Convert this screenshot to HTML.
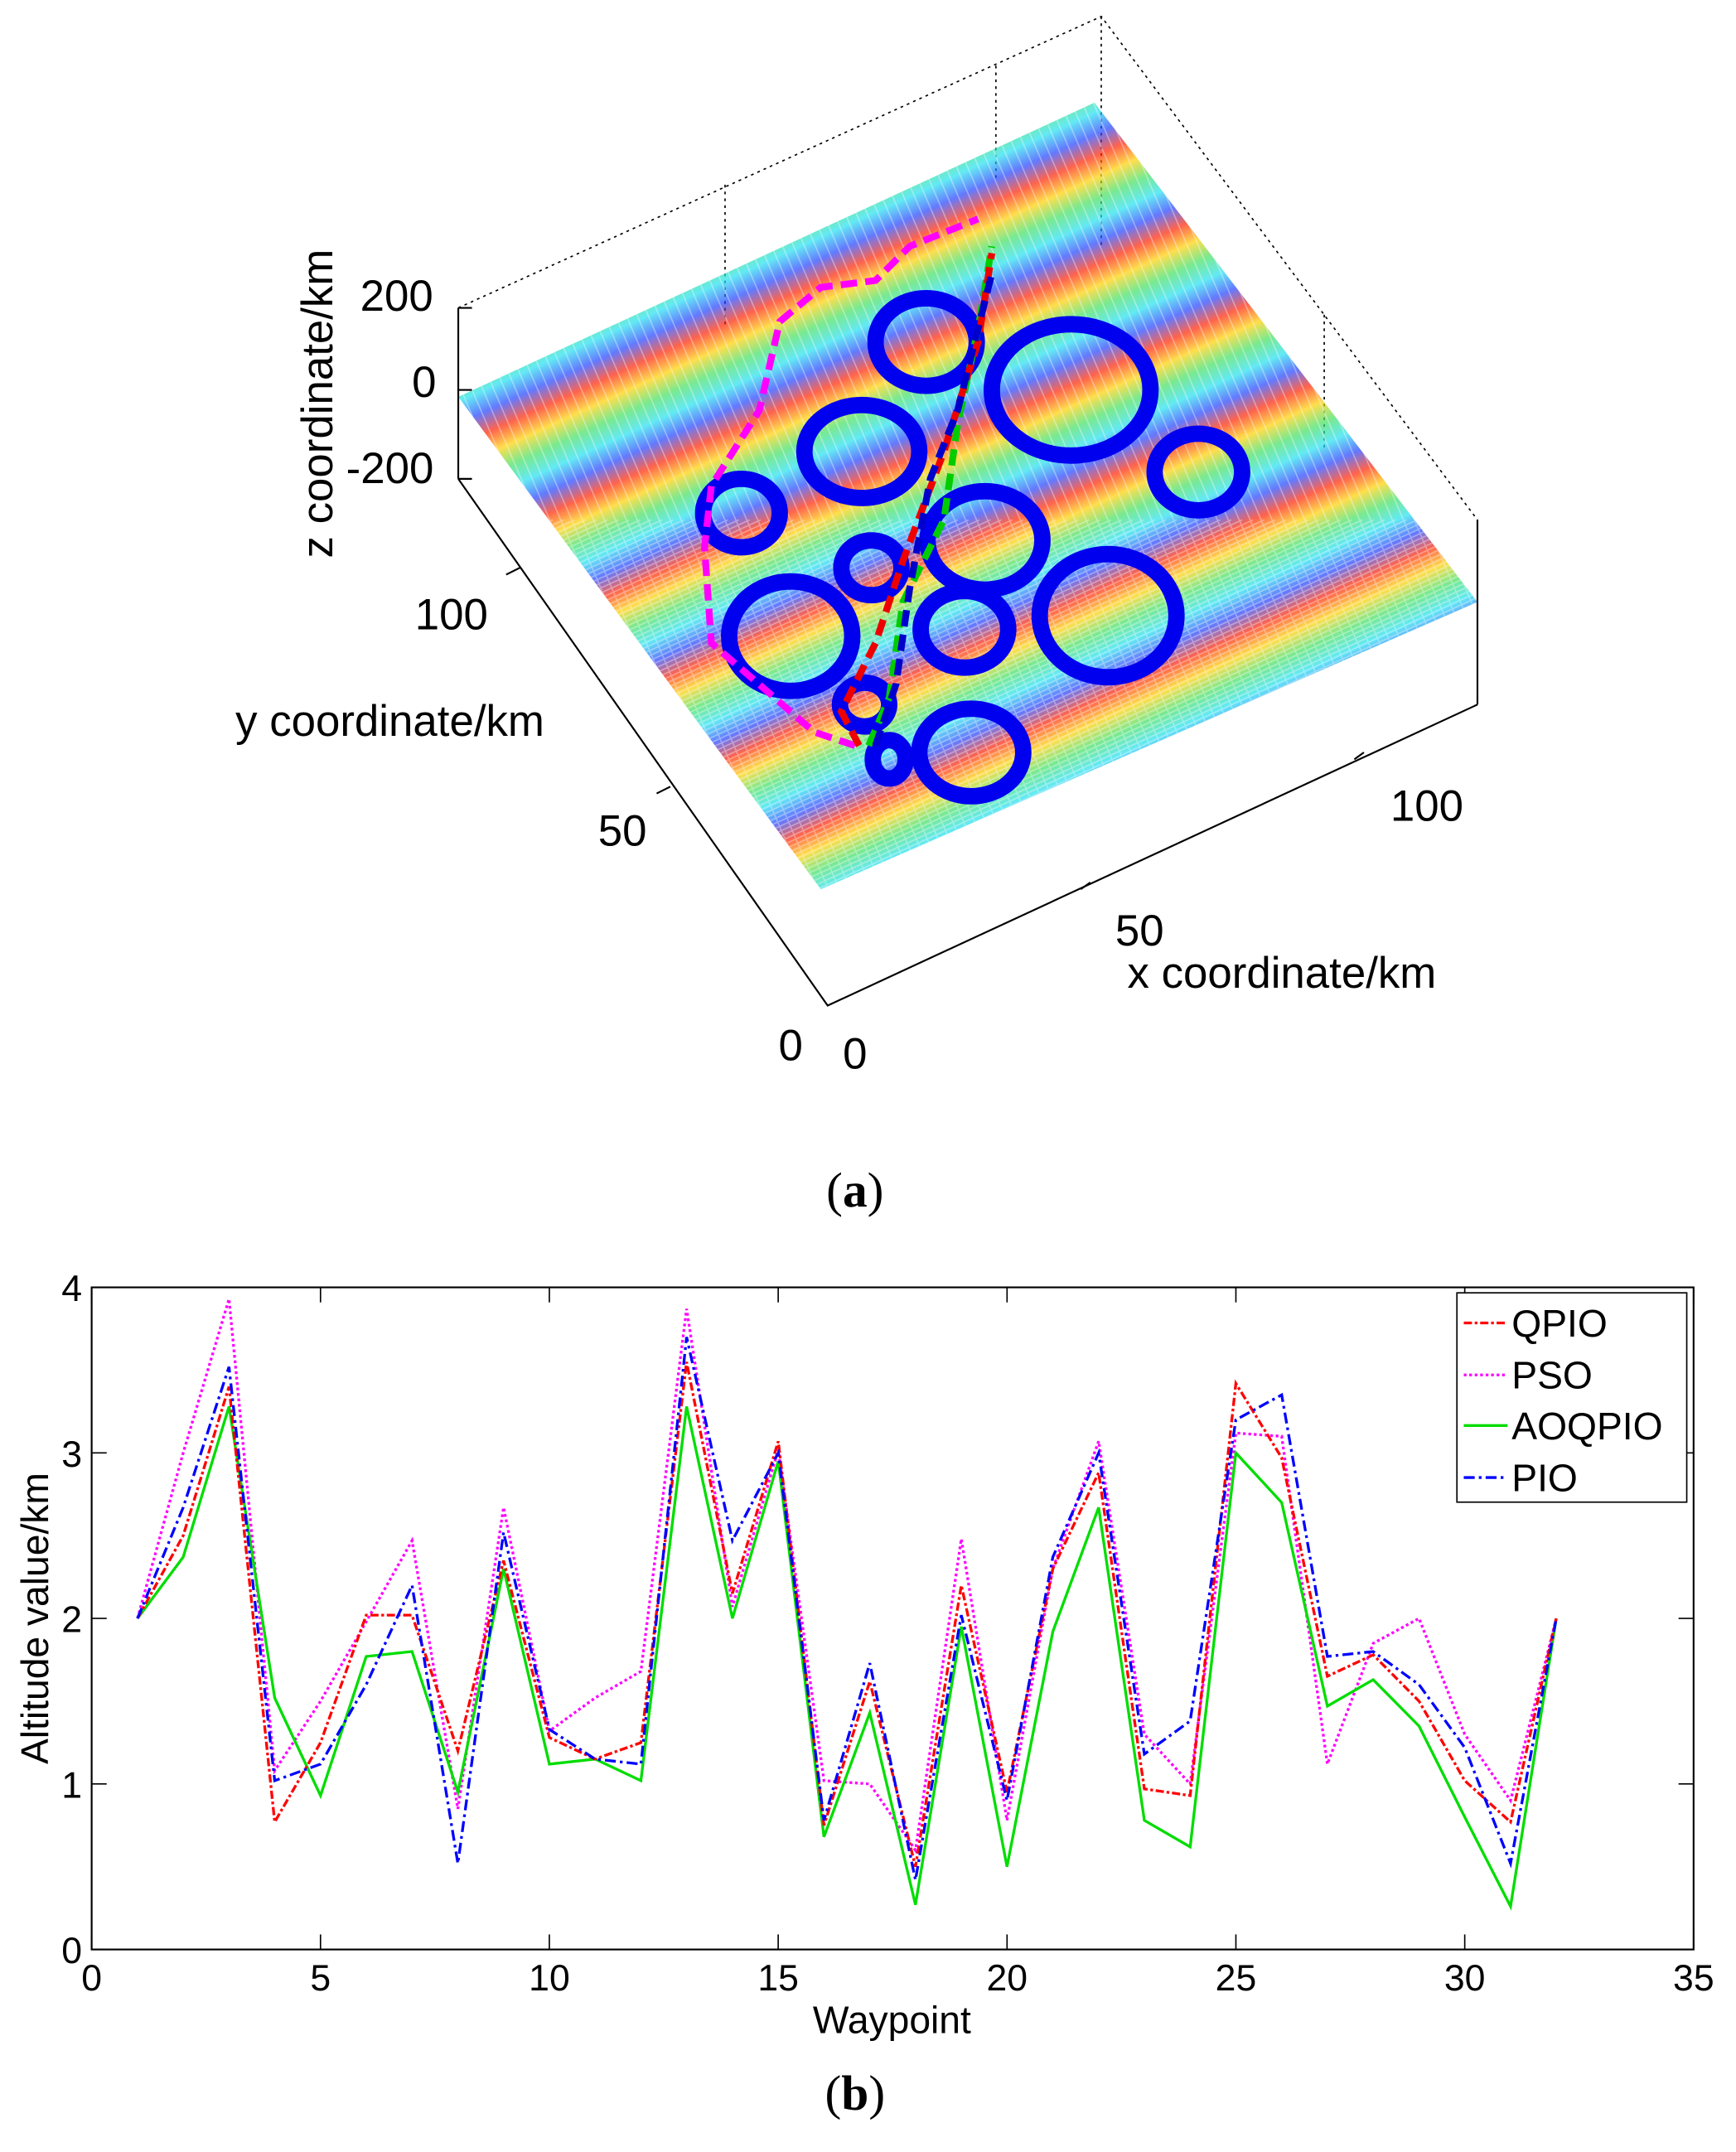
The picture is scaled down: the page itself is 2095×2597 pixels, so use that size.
<!DOCTYPE html>
<html><head><meta charset="utf-8">
<style>html,body{margin:0;padding:0;background:#fff}svg{display:block}</style>
</head><body>
<svg id="s" width="2095" height="2597" viewBox="0 0 1269 1573" xmlns="http://www.w3.org/2000/svg" font-family="Liberation Sans, sans-serif">
<defs>
<linearGradient id="terr" gradientUnits="userSpaceOnUse" x1="0" y1="0" x2="30" y2="66" spreadMethod="repeat">
<stop offset="0" stop-color="#ff2000"/><stop offset="0.2" stop-color="#ffd000"/><stop offset="0.4" stop-color="#40e060"/><stop offset="0.6" stop-color="#20e0f0"/><stop offset="0.8" stop-color="#2040ff"/><stop offset="1" stop-color="#ff2000"/>
</linearGradient>
<clipPath id="tc"><polygon points="335,290 800,75 1080,440 600,650"/></clipPath>
</defs>
<g stroke="#000" stroke-width="1" stroke-dasharray="2,3" fill="none">
<polyline points="335,225 805,12 1080,380"/>
<line x1="805" y1="12" x2="805" y2="180"/>
<line x1="530" y1="135" x2="530" y2="240"/>
<line x1="728" y1="48" x2="728" y2="130"/>
<line x1="968" y1="230" x2="968" y2="330"/>
</g>
<polygon points="335,290 800,75 1080,440 600,650" fill="url(#terr)" opacity="0.7"/>
<g clip-path="url(#tc)" stroke="#fff" stroke-width="1" opacity="0.35">
<path id="mesh" d=""/>
</g>
<g fill="none" stroke="#0000ee" stroke-width="12">
<ellipse cx="677" cy="250" rx="37" ry="32"/>
<ellipse cx="783" cy="285" rx="58" ry="48"/>
<ellipse cx="630" cy="330" rx="42" ry="34"/>
<ellipse cx="876" cy="345" rx="32" ry="28"/>
<ellipse cx="542" cy="375" rx="28" ry="25"/>
<ellipse cx="720" cy="395" rx="42" ry="36"/>
<ellipse cx="637" cy="415" rx="22" ry="20"/>
<ellipse cx="578" cy="465" rx="45" ry="40"/>
<ellipse cx="810" cy="450" rx="50" ry="45"/>
<ellipse cx="705" cy="460" rx="32" ry="28"/>
<ellipse cx="632" cy="515" rx="18" ry="16"/>
<ellipse cx="710" cy="550" rx="38" ry="32"/>
<ellipse cx="650" cy="555" rx="12" ry="14"/>
</g>
<g fill="none" stroke-width="5" stroke-dasharray="12,6">
<polyline stroke="#ff00ff" points="625,545 595,535 520,470 515,400 520,355 555,300 570,235 600,210 640,205 665,180 715,160"/>
<polyline stroke="#00cc00" points="635,545 650,510 660,440 690,380 700,310 715,240 725,180"/>
<polyline stroke="#ee0000" points="628,545 615,520 640,470 660,410 690,330 715,250 725,185"/>
<polyline stroke="#0000cc" points="640,545 655,500 665,430 680,350 700,300 725,200"/>
</g>
<g stroke="#000" stroke-width="1.3" fill="none">
<line x1="335" y1="225" x2="335" y2="350"/>
<polyline points="335,350 605,735 1080,515"/>
<line x1="1080" y1="515" x2="1080" y2="380"/>
<line x1="335" y1="225" x2="345" y2="225"/><line x1="335" y1="285" x2="345" y2="285"/><line x1="335" y1="350" x2="345" y2="350"/>
<line x1="370" y1="420" x2="380" y2="415"/><line x1="480" y1="580" x2="490" y2="575"/>
<line x1="790" y1="650" x2="797" y2="645"/><line x1="990" y1="555" x2="997" y2="550"/>
</g>
<g font-size="32" fill="#000">
<text x="290" y="227" text-anchor="middle">200</text>
<text x="310" y="290" text-anchor="middle">0</text>
<text x="285" y="353" text-anchor="middle">-200</text>
<text transform="translate(243,295) rotate(-90)" text-anchor="middle">z coordinate/km</text>
<text x="330" y="460" text-anchor="middle">100</text>
<text x="285" y="538" text-anchor="middle">y coordinate/km</text>
<text x="455" y="618" text-anchor="middle">50</text>
<text x="578" y="775" text-anchor="middle">0</text>
<text x="625" y="781" text-anchor="middle">0</text>
<text x="833" y="691" text-anchor="middle">50</text>
<text x="937" y="722" text-anchor="middle">x coordinate/km</text>
<text x="1043" y="600" text-anchor="middle">100</text>
</g>
<text x="625" y="882" font-family="Liberation Serif, serif" font-size="36" text-anchor="middle">(<tspan font-weight="bold">a</tspan>)</text>
<rect x="67" y="941" width="1171" height="484" fill="none" stroke="#000" stroke-width="1.3"/>
<g id="ticks" stroke="#000" stroke-width="1"></g>
<g id="tl" font-size="27" fill="#000"></g>
<g id="lines" fill="none" stroke-width="2"></g>
<text x="652" y="1486" font-size="28" text-anchor="middle">Waypoint</text>
<text transform="translate(35,1183) rotate(-90)" font-size="28" text-anchor="middle">Altitude value/km</text>
<rect x="1065" y="945" width="168" height="153" fill="#fff" stroke="#000" stroke-width="1"/>
<g font-size="28" fill="#000">
<line x1="1070" y1="967" x2="1102" y2="967" stroke="#f00" stroke-width="2" stroke-dasharray="6,2,2,2"/><text x="1105" y="977">QPIO</text>
<line x1="1070" y1="1005" x2="1102" y2="1005" stroke="#f0f" stroke-width="2" stroke-dasharray="2,2"/><text x="1105" y="1015">PSO</text>
<line x1="1070" y1="1042" x2="1102" y2="1042" stroke="#0d0" stroke-width="2"/><text x="1105" y="1052">AOQPIO</text>
<line x1="1070" y1="1080" x2="1102" y2="1080" stroke="#00f" stroke-width="2" stroke-dasharray="8,3,2,3"/><text x="1105" y="1090">PIO</text>
</g>
<text x="625" y="1542" font-family="Liberation Serif, serif" font-size="36" text-anchor="middle">(<tspan font-weight="bold">b</tspan>)</text>
</svg>
<script>
var NS="http://www.w3.org/2000/svg";
function el(p,t,a,txt){var e=document.createElementNS(NS,t);for(var k in a)e.setAttribute(k,a[k]);if(txt!=null)e.textContent=txt;document.getElementById(p).appendChild(e);return e;}
function X(w){return 67+w*1171/35}function Y(v){return 1425-v*121}
for(var i=0;i<=35;i+=5){el("ticks","line",{x1:X(i),y1:1425,x2:X(i),y2:1414});el("ticks","line",{x1:X(i),y1:941,x2:X(i),y2:952});el("tl","text",{x:X(i),y:1455,"text-anchor":"middle"},i);}
for(var j=0;j<=4;j++){el("ticks","line",{x1:67,y1:Y(j),x2:78,y2:Y(j)});el("ticks","line",{x1:1238,y1:Y(j),x2:1227,y2:Y(j)});el("tl","text",{x:60,y:Y(j)+10,"text-anchor":"end"},j);}
var D={
q:[2,2.5,3.4,0.77,1.25,2.02,2.02,1.2,2.35,1.28,1.15,1.25,3.55,2.15,3.07,0.75,1.62,0.5,2.2,0.95,2.3,2.88,0.97,0.93,3.42,2.97,1.65,1.78,1.5,1.02,0.77,2.0],
p:[2,3.0,3.93,1.08,1.5,1.98,2.47,0.85,2.67,1.32,1.52,1.68,3.87,2.07,3.02,1.02,1.0,0.6,2.48,0.78,2.3,3.07,1.3,1.0,3.12,3.1,1.12,1.85,2.0,1.3,0.9,2.0],
a:[2,2.37,3.28,1.52,0.93,1.77,1.8,0.95,2.3,1.12,1.15,1.02,3.28,2.0,2.95,0.68,1.43,0.27,1.95,0.5,1.92,2.67,0.78,0.62,3.0,2.7,1.47,1.63,1.35,0.8,0.26,2.0],
i:[2,2.67,3.52,1.02,1.12,1.6,2.2,0.52,2.52,1.33,1.15,1.12,3.7,2.47,3.0,0.78,1.73,0.42,2.02,0.9,2.37,3.0,1.18,1.38,3.2,3.35,1.77,1.8,1.6,1.22,0.52,2.0]};
var S={p:["#f0f","2,2"],a:["#0d0","none"],q:["#f00","6,2,2,2"],i:["#00f","8,3,2,3"]};
["p","a","q","i"].forEach(function(k){var pts=D[k].map(function(v,n){return X(n+1).toFixed(1)+","+Y(v).toFixed(1)}).join(" ");el("lines","polyline",{points:pts,stroke:S[k][0],"stroke-dasharray":S[k][1]});});
var d="";for(var t=-600;t<900;t+=8){d+="M"+(335+t)+",0 l300,700 ";d+="M"+(t)+",700 l700,-320 ";}
document.getElementById("mesh").setAttribute("d",d);
</script>
</body></html>
